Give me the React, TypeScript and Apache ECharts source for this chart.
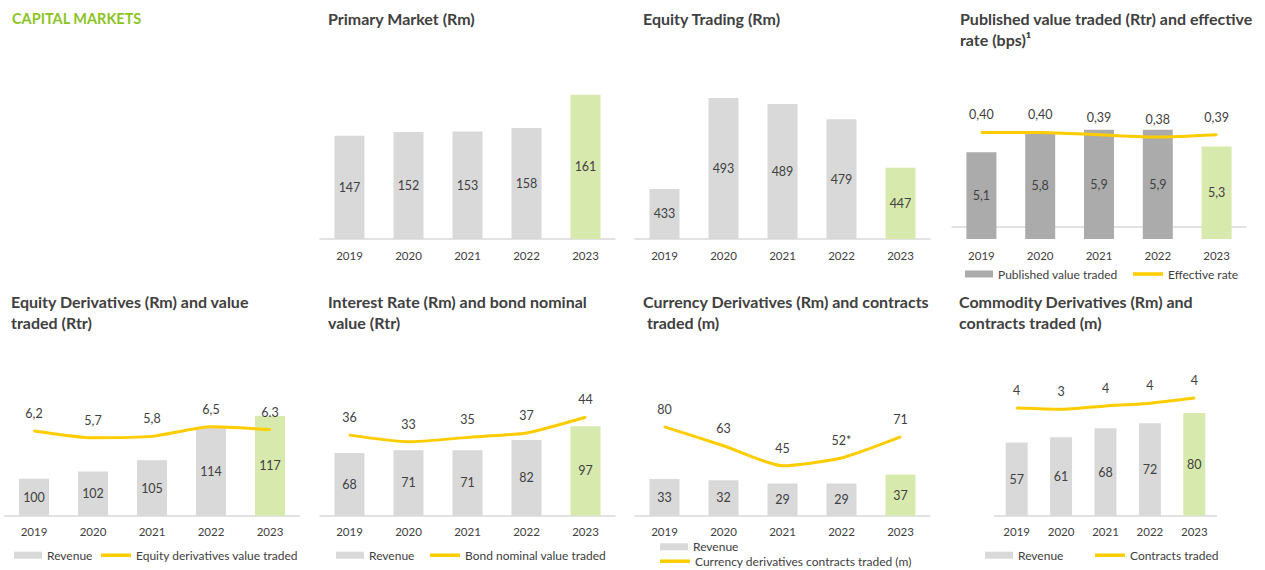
import React, { useEffect, useRef } from "react";
import * as echarts from "echarts";

// ---------- data ----------
const years = ["2019", "2020", "2021", "2022", "2023"];
const highlightYear = "2023";

const primaryMarket = [147, 152, 153, 158, 161];
// bar heights as drawn in the reference (its 2023 bar is drawn taller than its label)
const primaryMarketDrawn = [147, 152, 153, 158, 205];

const equityTrading = [433, 493, 489, 479, 447];

const publishedValueTraded = [5.1, 5.8, 5.9, 5.9, 5.3];
const effectiveRate = [0.4, 0.4, 0.39, 0.38, 0.39];

const equityDerivRevenue = [100, 102, 105, 114, 117];
const equityDerivValueTraded = [6.2, 5.7, 5.8, 6.5, 6.3];
const equityDerivValueLabels = ["6,2", "5,7", "5,8", "6,5", "6.3"];

const interestRateRevenue = [68, 71, 71, 82, 97];
const bondNominalValue = [36, 33, 35, 37, 44];

const currencyRevenue = [33, 32, 29, 29, 37];
const currencyContracts = [80, 63, 45, 52, 71];
const currencyContractsLabels = ["80", "63", "45", "52*", "71"];

const commodityRevenue = [57, 61, 68, 72, 80];
const commodityContracts = [3.52, 3.48, 3.59, 3.68, 3.85];
const commodityContractsLabels = ["4", "3", "4", "4", "4"];

// ---------- styles ----------
const GRAY = "#d9d9d9";
const DARK_GRAY = "#ababab";
const GREEN = "#d8e9ad";
const YELLOW = "#ffcc00";
const TEXT = "#404040";
const FONT = "Lato";

const comma = (v: number, d: number) => v.toFixed(d).replace(".", ",");

function barData(values: number[]) {
  return values.map((v, i) =>
    years[i] === highlightYear ? { value: v, itemStyle: { color: GREEN } } : v
  );
}

function xAxisFor(gridIndex: number) {
  return {
    type: "category",
    gridIndex,
    data: years,
    axisLine: { lineStyle: { color: "#d9d9d9", width: 1.5 } },
    axisTick: { show: false },
    axisLabel: { color: TEXT, fontSize: 11.5, fontFamily: FONT, margin: 10 },
  };
}

function yAxisFor(gridIndex: number, min: number, max: number) {
  return { type: "value", gridIndex, min, max, show: false };
}

function barSeries(
  name: string,
  idx: number,
  yIdx: number,
  values: number[],
  color: string,
  width: number,
  labels: string[]
) {
  return {
    type: "bar",
    name,
    xAxisIndex: idx,
    yAxisIndex: yIdx,
    data: barData(values),
    barWidth: width,
    itemStyle: { color },
    label: {
      show: true,
      position: "inside",
      color: TEXT,
      fontSize: 12.5,
      fontFamily: FONT,
      formatter: (p: any) => labels[p.dataIndex],
    },
    z: 2,
  };
}

function lineSeries(name: string, idx: number, yIdx: number, values: number[], labels: string[]) {
  return {
    type: "line",
    name,
    xAxisIndex: idx,
    yAxisIndex: yIdx,
    data: values,
    smooth: 0.2,
    symbol: "circle",
    symbolSize: 2,
    showSymbol: true,
    itemStyle: { color: YELLOW },
    lineStyle: { color: YELLOW, width: 3 },
    label: {
      show: true,
      position: "top",
      distance: 10,
      color: TEXT,
      fontSize: 12.5,
      fontFamily: FONT,
      formatter: (p: any) => labels[p.dataIndex],
    },
    z: 3,
  };
}

function legendItem(name: string, left: number, centerY: number, isLine: boolean) {
  return {
    data: [{ name, icon: "rect" }],
    left,
    top: centerY - 7.5,
    padding: 0,
    itemWidth: isLine ? 30 : 28,
    itemHeight: isLine ? 3.5 : 7,
    selectedMode: false,
    textStyle: { color: TEXT, fontSize: 12, fontFamily: FONT },
  };
}

function titleAt(text: string, left: number, top: number, color = TEXT, size = 16) {
  return {
    text,
    left,
    top,
    padding: 0,
    textStyle: { color, fontSize: size, fontWeight: "bold", fontFamily: FONT, lineHeight: 21 },
  };
}

export default function App() {
  const ref = useRef<HTMLDivElement>(null);

  useEffect(() => {
    if (!ref.current) return;
    const chart = echarts.init(ref.current, undefined, { renderer: "svg" });

    const topRow = { top: 85, height: 154 };
    const botRow = { top: 368, height: 147.7 };

    const option: any = {
      animation: false,
      backgroundColor: "#ffffff",
      textStyle: { fontFamily: FONT },
      title: [
        titleAt("CAPITAL MARKETS", 12, 7.5, "#8cc41f", 14.5),
        titleAt("Primary Market (Rm)", 328, 7.5),
        titleAt("Equity Trading (Rm)", 643, 7.5),
        titleAt("Published value traded (Rtr) and effective\nrate (bps)¹", 960, 7.5),
        titleAt("Equity Derivatives (Rm) and value\ntraded (Rtr)", 11, 291),
        titleAt("Interest Rate (Rm) and bond nominal\nvalue (Rtr)", 328, 291),
        titleAt("Currency Derivatives (Rm) and contracts\n traded (m)", 643, 291),
        titleAt("Commodity Derivatives (Rm) and\ncontracts traded (m)", 959, 291),
      ],
      grid: [
        { left: 320, width: 295, ...topRow },
        { left: 635, width: 295, ...topRow },
        { left: 952, width: 294, ...topRow },
        { left: 4.5, width: 295, ...botRow },
        { left: 320, width: 295, ...botRow },
        { left: 635, width: 295, ...botRow },
        { left: 994.5, width: 222, ...botRow },
      ],
      xAxis: [0, 1, 2, 3, 4, 5, 6].map(xAxisFor),
      yAxis: [
        yAxisFor(0, 0, 219),
        yAxisFor(1, 400, 501.5),
        yAxisFor(2, 2, 7.5),
        yAxisFor(2, -0.05, 0.6),
        yAxisFor(3, 90, 130),
        yAxisFor(3, 0, 10.8),
        yAxisFor(4, 0, 160),
        yAxisFor(4, 0, 66),
        yAxisFor(5, 0, 133),
        yAxisFor(6, 0, 115),
        yAxisFor(6, 0, 4.83),
      ],
      legend: [
        legendItem("Published value traded", 965, 275.5, false),
        legendItem("Effective rate", 1133, 275.5, true),
        legendItem("Revenue", 14, 556.7, false),
        legendItem("Equity derivatives value traded", 101, 556.7, true),
        legendItem("Revenue", 336, 556.7, false),
        legendItem("Bond nominal value traded", 430, 556.7, true),
        legendItem("Revenue", 660, 548.3, false),
        legendItem("Currency derivatives contracts traded (m)", 660, 562.7, true),
        legendItem("Revenue", 985, 556.7, false),
        legendItem("Contracts traded", 1095, 556.7, true),
      ],
      series: [
        barSeries("Primary Market", 0, 0, primaryMarketDrawn, GRAY, 30, primaryMarket.map(String)),
        barSeries("Equity Trading", 1, 1, equityTrading, GRAY, 30, equityTrading.map(String)),
        barSeries(
          "Published value traded",
          2,
          2,
          publishedValueTraded,
          DARK_GRAY,
          30,
          publishedValueTraded.map((v) => comma(v, 1))
        ),
        lineSeries("Effective rate", 2, 3, effectiveRate, effectiveRate.map((v) => comma(v, 2))),
        barSeries("Revenue", 3, 4, equityDerivRevenue, GRAY, 30, equityDerivRevenue.map(String)),
        lineSeries("Equity derivatives value traded", 3, 5, equityDerivValueTraded, equityDerivValueLabels),
        barSeries("Revenue", 4, 6, interestRateRevenue, GRAY, 30, interestRateRevenue.map(String)),
        lineSeries("Bond nominal value traded", 4, 7, bondNominalValue, bondNominalValue.map(String)),
        barSeries("Revenue", 5, 8, currencyRevenue, GRAY, 30, currencyRevenue.map(String)),
        lineSeries("Currency derivatives contracts traded (m)", 5, 8, currencyContracts, currencyContractsLabels),
        barSeries("Revenue", 6, 9, commodityRevenue, GRAY, 22, commodityRevenue.map(String)),
        lineSeries("Contracts traded", 6, 10, commodityContracts, commodityContractsLabels),
      ],
    };

    chart.setOption(option);
    return () => chart.dispose();
  }, []);

  return (
    <div
      ref={ref}
      style={{ position: "absolute", left: 0, top: 0, width: 1265, height: 570, background: "#fff" }}
    />
  );
}
